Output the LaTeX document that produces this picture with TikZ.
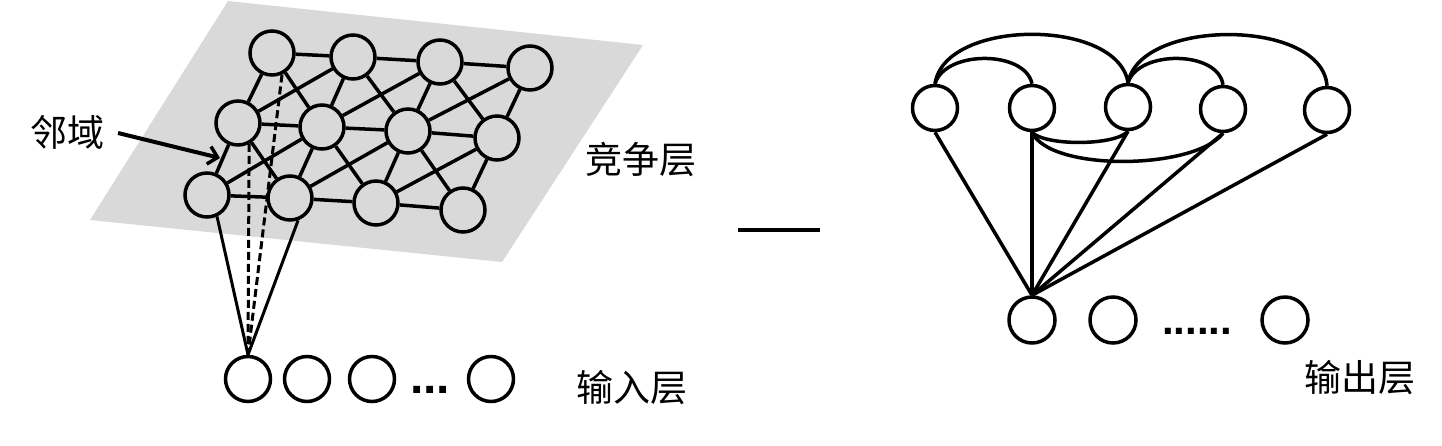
\documentclass[tikz,border=0pt]{standalone}
\usepackage{fontspec}
\newfontfamily\cjk{Noto Sans CJK SC}
\newfontfamily\dotfont{Liberation Sans}
\usetikzlibrary{arrows.meta}
\definecolor{plane}{RGB}{217,217,217}
\begin{document}
\begin{tikzpicture}[x=1pt,y=-1pt,
  gnode/.style={circle,draw,line width=3.5pt,fill=plane,minimum size=44pt,inner sep=0pt},
  wnode/.style={circle,draw,line width=3.5pt,fill=white,minimum size=45pt,inner sep=0pt},
  edge/.style={line width=3.5pt},
  thinedge/.style={line width=3pt},
  dashline/.style={line width=3pt,dash pattern=on 8pt off 4pt},
  lbl/.style={font=\cjk\fontsize{37}{42}\selectfont,inner sep=0pt},
  dots/.style={font=\dotfont\bfseries\fontsize{48}{56}\selectfont,inner sep=0pt,anchor=base}]
\useasboundingbox (0,0) rectangle (1442,445);
% competition plane
\fill[plane] (228,1) -- (643,45) -- (502,262) -- (90,220) -- cycle;
% grid nodes
\node[gnode] (r1c1) at (272,53) {};
\node[gnode] (r1c2) at (353,57) {};
\node[gnode] (r1c3) at (440,62) {};
\node[gnode] (r1c4) at (530,68) {};
\node[gnode] (r2c1) at (238,123) {};
\node[gnode] (r2c2) at (322,127) {};
\node[gnode] (r2c3) at (408,131) {};
\node[gnode] (r2c4) at (497,138) {};
\node[gnode] (r3c1) at (207,195) {};
\node[gnode] (r3c2) at (290,198) {};
\node[gnode] (r3c3) at (376,203) {};
\node[gnode] (r3c4) at (463,210) {};
\foreach \r in {1,2,3}
  \foreach \c/\d in {1/2,2/3,3/4}
    \draw[edge] (r\r c\c) -- (r\r c\d);
\foreach \c in {1,...,4} {
  \draw[edge] (r1c\c) -- (r2c\c);
  \draw[edge] (r2c\c) -- (r3c\c);
}
\foreach \c/\d in {1/2,2/3,3/4} {
  \draw[edge] (r1c\c) -- (r2c\d);
  \draw[edge] (r2c\c) -- (r1c\d);
  \draw[edge] (r2c\c) -- (r3c\d);
  \draw[edge] (r3c\c) -- (r2c\d);
}
% input layer
\node[wnode] (in1) at (248,379) {};
\node[wnode] (in2) at (307,379) {};
\node[wnode] (in3) at (372,379) {};
\node[wnode] (in4) at (491,379) {};
\node[dots] (indots) at (430,393) {...};
\draw[thinedge] (r3c1.-65) -- (in1.north);
\draw[thinedge] (r3c2.-70) -- (in1.north);
\draw[dashline] (r1c1.-65) -- (in1.north);
\draw[dashline] (r2c1.-62) -- (in1.north);
% labels
\node[lbl] (nb) at (67,132) {邻域};
\coordinate (nbtip) at (220,158);
\draw[line width=4pt,-{Straight Barb[length=9pt,width=18pt,line width=3.5pt]}] (118,133) -- (nbtip);
\node[lbl] (jz) at (641,160) {竞争层};
\node[lbl] (sr) at (632,388) {输入层};
% separator
\coordinate (sepa) at (738,230);
\coordinate (sepb) at (820,230);
\draw[line width=4pt] (sepa) -- (sepb);
% right side
\node[wnode] (n1) at (935,108) {};
\node[wnode] (n2) at (1032,108) {};
\node[wnode] (n3) at (1128,107) {};
\node[wnode] (n4) at (1223,109) {};
\node[wnode] (n5) at (1327,110) {};
\node[wnode,minimum size=46pt] (b1) at (1032,320) {};
\node[wnode,minimum size=46pt] (b2) at (1113,320) {};
\node[wnode,minimum size=46pt] (b3) at (1285,320) {};
\node[dots,font=\dotfont\bfseries\fontsize{42}{48}\selectfont] (outdots) at (1197,334) {......};
\node[lbl] (sc) at (1360,378) {输出层};
\foreach \i in {1,...,5}
  \draw[edge] (b1.north) -- (n\i.south);
\draw[edge] (n1.north) .. controls (945,18) and (1118,18) .. (n3.north);
\draw[edge] (n1.north) .. controls (945,50) and (1025,50) .. (n2.north);
\draw[edge] (n3.north) .. controls (1140,18) and (1322,18) .. (n5.north);
\draw[edge] (n3.north) .. controls (1138,50) and (1218,50) .. (n4.north);
\draw[edge] (n2.south) .. controls (1045,146) and (1115,146) .. (n3.south);
\draw[edge] (n2.south) .. controls (1050,172) and (1195,170) .. (n4.south);
\end{tikzpicture}
\end{document}
